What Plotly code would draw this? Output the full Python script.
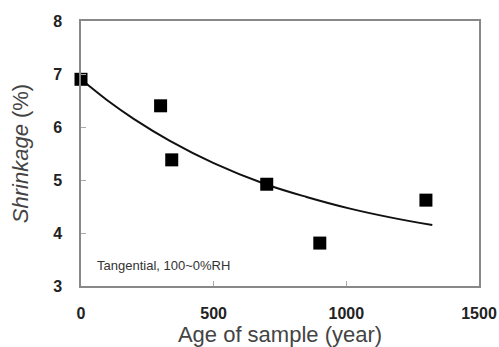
import plotly.graph_objects as go

age = [0, 300, 342, 700, 900, 1300]
shrinkage = [6.9, 6.4, 5.38, 4.92, 3.81, 4.62]

curve_age = [0, 100, 200, 335, 500, 696, 850, 1014, 1170, 1324]
curve_shrink = [6.9, 6.50, 6.15, 5.74, 5.32, 4.92, 4.68, 4.46, 4.29, 4.15]

x_ticks = [0, 500, 1000, 1500]
y_ticks = [3, 4, 5, 6, 7, 8]

fig = go.Figure()
fig.add_trace(go.Scatter(x=curve_age, y=curve_shrink, mode="lines",
                         line=dict(color="#111", width=2, shape="spline"),
                         showlegend=False, cliponaxis=False))
fig.add_trace(go.Scatter(x=age, y=shrinkage, mode="markers",
                         marker=dict(symbol="square", size=13, color="#000"),
                         showlegend=False, cliponaxis=False))

fig.add_annotation(x=0.035, y=0.079, xref="paper", yref="paper", xanchor="left",
                   yanchor="middle", showarrow=False,
                   text="Tangential, 100~0%RH",
                   font=dict(family="Liberation Sans", size=13, color="#333"))

axis_common = dict(showgrid=False, zeroline=False, showline=True, linecolor="#888",
                   linewidth=1.5, mirror=True, ticks="inside", ticklen=5,
                   tickcolor="#aaa", automargin=False,
                   tickfont=dict(family="Liberation Sans", size=16, color="#222", weight="bold"))

fig.update_xaxes(range=[0, 1500], tickvals=x_ticks, ticklabelstandoff=12,
                 title=dict(text="Age of sample (year)", standoff=4,
                            font=dict(family="Liberation Sans", size=22, color="#444")),
                 **axis_common)
fig.update_yaxes(range=[3, 8], tickvals=y_ticks, ticklabelstandoff=14,
                 title=dict(text="<i>Shrinkage</i> (%)", standoff=18,
                            font=dict(family="Liberation Sans", size=22, color="#444")),
                 **axis_common)

fig.update_layout(width=499, height=347, margin=dict(l=81, r=20, t=21, b=61),
                  plot_bgcolor="white", paper_bgcolor="white")

fig.write_html("out.html")
